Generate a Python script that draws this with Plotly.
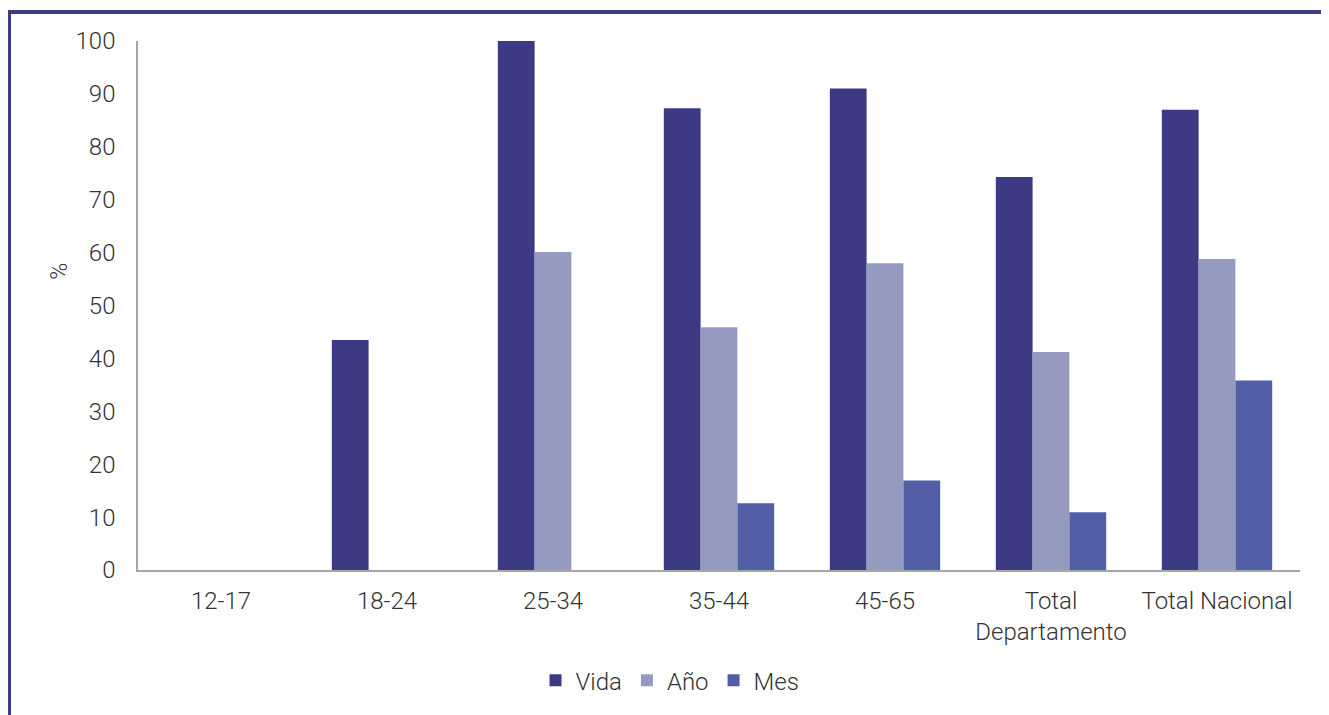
import plotly.graph_objects as go

categories = ["12-17", "18-24", "25-34", "35-44", "45-65", "Total<br>Departamento", "Total Nacional"]
vida = [0, 43.5, 100, 87.3, 91.0, 74.3, 87.0]
anio = [0, 0, 60.1, 45.9, 58.0, 41.2, 58.8]
mes = [0, 0, 0, 12.6, 16.9, 10.9, 35.8]
yticks = [0, 10, 20, 30, 40, 50, 60, 70, 80, 90, 100]

colors = {"Vida": "#3c3a82", "Año": "#959bc0", "Mes": "#525fa7"}
font = dict(family="Roboto", size=24, color="#333333", weight=300)

fig = go.Figure()
for name, vals in [("Vida", vida), ("Año", anio), ("Mes", mes)]:
    fig.add_trace(go.Bar(x=categories, y=vals, name=name, marker_color=colors[name],
                         marker_line_width=0))

# page is rendered with an 8px body margin, so work in page coords minus 8
OFF = 8
W, H = 1329 - OFF, 715 - OFF
l, t = 138 - OFF, 41 - OFF
r = W - (1300 - OFF)
b = H - (572 - OFF)
pw, ph = W - l - r, H - t - b


def px(x):
    return (x - OFF - l) / pw


def py(y):
    return (H - b - (y - OFF)) / ph


frame = "#3d3b87"
shapes = [
    dict(type="line", xref="paper", yref="paper", x0=px(9), x1=px(9), y0=py(10), y1=py(740),
         line=dict(color=frame, width=4)),
    dict(type="line", xref="paper", yref="paper", x0=px(7), x1=px(1329), y0=py(12), y1=py(12),
         line=dict(color=frame, width=4)),
    dict(type="line", xref="paper", yref="paper", x0=px(1327), x1=px(1327), y0=py(10), y1=py(740),
         line=dict(color=frame, width=4)),
]

fig.update_layout(
    width=W, height=H,
    margin=dict(l=l, r=r, t=t, b=b),
    paper_bgcolor="white", plot_bgcolor="white",
    barmode="group", bargap=0.335, bargroupgap=0,
    font=font,
    showlegend=True,
    legend=dict(orientation="h", x=px(670), xanchor="center", y=py(683), yanchor="middle",
                font=font, itemwidth=30, traceorder="normal"),
    shapes=shapes,
    annotations=[dict(text="%", xref="paper", yref="paper", x=px(44), y=py(272),
                      showarrow=False, textangle=-90,
                      font=dict(family="Roboto", size=23, color="#333333", weight=300))],
    xaxis=dict(showline=True, linecolor="#a6a6a6", linewidth=1.5, showgrid=False, ticks="",
               tickfont=font, ticklabelstandoff=8),
    yaxis=dict(range=[0, 100], tickvals=yticks, showline=True, linecolor="#a6a6a6", linewidth=1.5,
               showgrid=False, zeroline=False, ticks="", tickfont=font, ticklabelstandoff=16),
)

fig.write_html("out.html")
